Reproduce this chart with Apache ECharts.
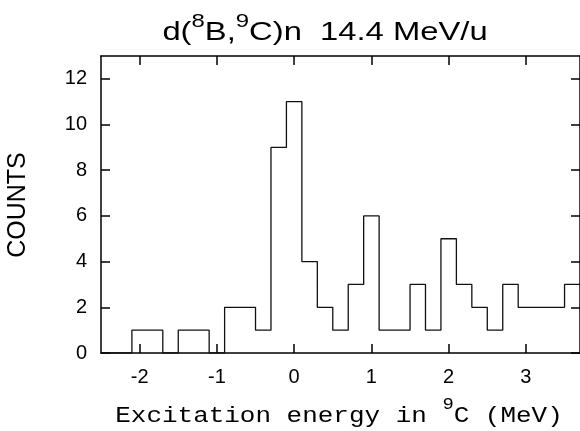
<!DOCTYPE html>
<html>
<head>
<meta charset="utf-8">
<script src="https://cdn.jsdelivr.net/npm/echarts@6/dist/echarts.min.js"></script>
<style>html,body{margin:0;padding:0;background:#fff}#c{width:580px;height:431px}</style>
</head>
<body>
<div id="c"></div>
<script>
// Bin centres (MeV) and counts
var binCenters = [-2.4,-2.2,-2.0,-1.8,-1.6,-1.4,-1.2,-1.0,-0.8,-0.6,-0.4,-0.2,0.0,0.2,0.4,0.6,0.8,1.0,1.2,1.4,1.6,1.8,2.0,2.2,2.4,2.6,2.8,3.0,3.2,3.4,3.6];
var counts     = [0,0,1,1,0,1,1,0,2,2,1,9,11,4,2,1,3,6,1,1,3,1,5,3,2,1,3,2,2,2,3];
var binWidth = 0.2;
var xTicks = [-2,-1,0,1,2,3];
var yTicks = [0,2,4,6,8,10,12];
var xRange = [-2.5, 3.7];
var yRange = [0, 13];

var stepData = binCenters.map(function(c,i){ return [+(c - binWidth/2).toFixed(3), counts[i]]; });
stepData.push([+(binCenters[binCenters.length-1] + binWidth/2).toFixed(3), counts[counts.length-1]]);

var chart = echarts.init(document.getElementById('c'), null, {renderer:'canvas'});
var sans = 'Liberation Sans, Arial, Helvetica, sans-serif';
var mono = 'Liberation Mono, Courier New, monospace';
var lineW = 1.5;

function xAx(pos, labels){
  return {
    type:'value', min:xRange[0], max:xRange[1], position:pos,
    axisLine:{show:true, onZero:false, lineStyle:{color:'#000', width:lineW}},
    axisTick:{show:true, inside:true, length:9, customValues:xTicks, lineStyle:{color:'#000', width:lineW}},
    axisLabel:{show:labels, customValues:xTicks, color:'#000', fontSize:20, fontFamily:sans, margin:14},
    splitLine:{show:false}
  };
}
function yAx(pos, labels){
  return {
    type:'value', min:yRange[0], max:yRange[1], position:pos,
    axisLine:{show:true, onZero:false, lineStyle:{color:'#000', width:lineW}},
    axisTick:{show:true, inside:true, length:9, customValues:yTicks, lineStyle:{color:'#000', width:lineW}},
    axisLabel:{show:labels, customValues:yTicks, color:'#000', fontSize:20, fontFamily:sans, margin:14},
    splitLine:{show:false}
  };
}

chart.setOption({
  animation:false,
  backgroundColor:'#fff',
  grid:{left:101, top:56, width:480, height:297, containLabel:false},
  xAxis:[xAx('bottom', true), xAx('top', false)],
  yAxis:[yAx('left', true), yAx('right', false)],
  series:[{
    type:'line', xAxisIndex:0, yAxisIndex:0,
    data:stepData, step:'end', symbol:'none',
    lineStyle:{color:'#111', width:1.3}
  }],
  graphic:[
    {type:'text', x:325, y:33, scaleX:1.26, originX:0, originY:0,
      style:{
        text:'{m|d(}{s|8}{m|B,}{s|9}{m|C)n  14.4 MeV/u}',
        align:'center', verticalAlign:'middle', textAlign:'center', textVerticalAlign:'middle',
        fill:'#000',
        rich:{
          m:{fontSize:26, fontFamily:sans, lineHeight:41, fill:'#000'},
          s:{fontSize:19, fontFamily:sans, lineHeight:24, verticalAlign:'top', fill:'#000'}
        }
      }},
    {type:'text', x:339, y:416, scaleX:1.18, originX:0, originY:0,
      style:{
        text:'{m|Excitation energy in }{s|9}{m|C (MeV)}',
        align:'center', verticalAlign:'middle', textAlign:'center', textVerticalAlign:'middle',
        fill:'#000',
        rich:{
          m:{fontSize:22, fontFamily:mono, lineHeight:38, fill:'#000'},
          s:{fontSize:16, fontFamily:mono, lineHeight:18, verticalAlign:'top', fill:'#000'}
        }
      }},
    {type:'text', x:18, y:205, rotation:Math.PI/2,
      style:{
        text:'COUNTS', font:'25px '+sans, fill:'#000',
        align:'center', verticalAlign:'middle', textAlign:'center', textVerticalAlign:'middle'
      }}
  ]
});
</script>
</body>
</html>
